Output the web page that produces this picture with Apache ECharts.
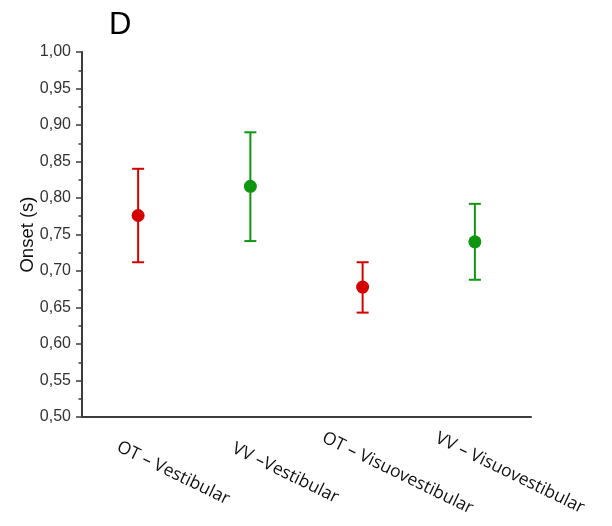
<!DOCTYPE html>
<html>
<head>
<meta charset="utf-8">
<script src="https://cdn.jsdelivr.net/npm/echarts@6/dist/echarts.min.js"></script>
<style>
  html, body { margin: 0; padding: 0; background: #fff; }
  #chart { width: 612px; height: 526px; }
</style>
</head>
<body>
<div id="chart"></div>
<script>
// Onset latency per condition: mean with lower/upper error limits (seconds)
const categories = ['OT – Vestibular', 'VV –Vestibular', 'OT – Visuovestibular', 'VV – Visuovestibular'];
const onsetMean = [0.776, 0.816, 0.678, 0.740];
const errLow = [0.712, 0.741, 0.643, 0.688];
const errHigh = [0.840, 0.890, 0.712, 0.792];
const groupColor = ['#d50000', '#0e960e', '#d50000', '#0e960e'];
const yTicks = { min: 0.5, max: 1.0, step: 0.05 };

const chart = echarts.init(document.getElementById('chart'), null, { renderer: 'canvas' });

const axisGray = '#3c3c3c';

chart.setOption({
  animation: false,
  backgroundColor: '#ffffff',
  title: {
    text: 'D',
    left: 104,
    top: 5,
    textStyle: { fontFamily: 'Liberation Sans, Arial, sans-serif', fontSize: 31, fontWeight: 'normal', color: '#000' }
  },
  grid: { left: 82, right: 81, top: 52, bottom: 109, containLabel: false },
  xAxis: {
    type: 'category',
    data: categories,
    boundaryGap: true,
    axisLine: { lineStyle: { color: axisGray, width: 2 } },
    axisTick: { alignWithLabel: true, length: 5, lineStyle: { color: axisGray, width: 1.5 } },
    axisLabel: {
      interval: 0,
      rotate: -26,
      align: 'center',
      verticalAlign: 'middle',
      margin: 39,
      padding: [0, 0, 0, 78],
      fontFamily: 'Open Sans, sans-serif',
      fontSize: 17.5,
      color: '#111',
      hideOverlap: false
    },
    splitLine: { show: false }
  },
  yAxis: {
    type: 'value',
    min: yTicks.min,
    max: yTicks.max,
    interval: yTicks.step,
    name: 'Onset (s)',
    nameLocation: 'middle',
    nameGap: 45,
    nameMoveOverlap: false,
    nameTextStyle: { fontFamily: 'Liberation Sans, Arial, sans-serif', fontSize: 18.5, color: '#111' },
    axisLine: { show: true, lineStyle: { color: axisGray, width: 2 } },
    axisTick: { show: true, length: 6, lineStyle: { color: axisGray, width: 1.5 } },
    minorTick: { show: true, splitNumber: 2, length: 3.5, lineStyle: { color: axisGray, width: 1.5 } },
    axisLabel: {
      margin: 11,
      fontFamily: 'Liberation Sans, Arial, sans-serif',
      fontSize: 16,
      color: '#333',
      formatter: v => v.toFixed(2).replace('.', ',')
    },
    splitLine: { show: false }
  },
  series: [
    {
      type: 'custom',
      name: 'error',
      data: categories.map((c, i) => [i, errLow[i], errHigh[i]]),
      z: 2,
      renderItem: function (params, api) {
        const i = api.value(0);
        const lo = api.coord([i, api.value(1)]);
        const hi = api.coord([i, api.value(2)]);
        const half = 6;
        const style = { stroke: groupColor[i], lineWidth: 2, fill: null };
        return {
          type: 'group',
          children: [
            { type: 'line', shape: { x1: lo[0], y1: lo[1], x2: hi[0], y2: hi[1] }, style },
            { type: 'line', shape: { x1: hi[0] - half, y1: hi[1], x2: hi[0] + half, y2: hi[1] }, style },
            { type: 'line', shape: { x1: lo[0] - half, y1: lo[1], x2: lo[0] + half, y2: lo[1] }, style }
          ]
        };
      }
    },
    {
      type: 'scatter',
      name: 'mean',
      z: 3,
      symbol: 'circle',
      symbolSize: 13,
      data: onsetMean.map((v, i) => ({ value: [i, v], itemStyle: { color: groupColor[i], opacity: 1 } }))
    }
  ]
});
</script>
</body>
</html>
